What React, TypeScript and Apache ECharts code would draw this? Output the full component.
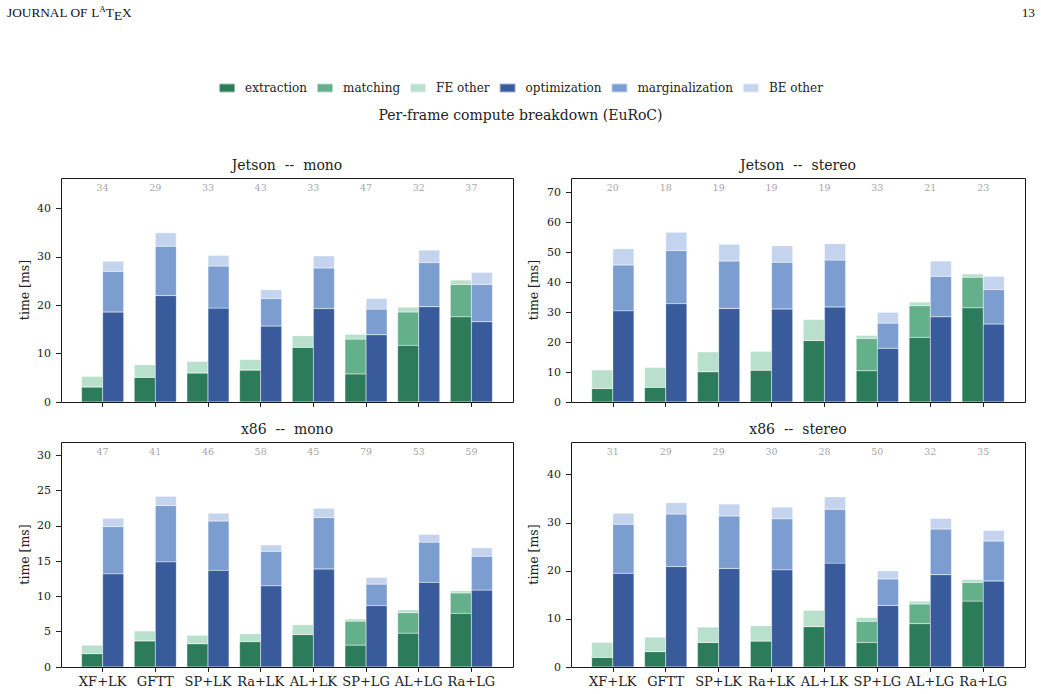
import React, { useEffect, useRef } from 'react';
import * as echarts from 'echarts';

// ---------- data ----------
const categories = ['XF+LK', 'GFTT', 'SP+LK', 'Ra+LK', 'AL+LK', 'SP+LG', 'AL+LG', 'Ra+LG'];
const componentNames = ['extraction', 'matching', 'FE other', 'optimization', 'marginalization', 'BE other'];

// Jetson -- mono
const jmExtraction = [3.1, 5.1, 6.0, 6.6, 11.3, 5.8, 11.7, 17.6];
const jmMatching = [0, 0, 0, 0, 0, 7.2, 6.9, 6.7];
const jmFeOther = [2.2, 2.6, 2.4, 2.2, 2.4, 1.0, 1.0, 0.9];
const jmOptimization = [18.6, 22.0, 19.4, 15.7, 19.3, 13.9, 19.7, 16.6];
const jmMarginalization = [8.4, 10.2, 8.7, 5.7, 8.4, 5.3, 9.1, 7.7];
const jmBeOther = [2.1, 2.8, 2.2, 1.8, 2.5, 2.2, 2.6, 2.5];
const jmFps = [34, 29, 33, 43, 33, 47, 32, 37];
const jmTicks = [0, 10, 20, 30, 40];

// Jetson -- stereo
const jsExtraction = [4.5, 4.9, 10.1, 10.6, 20.5, 10.4, 21.6, 31.4];
const jsMatching = [0, 0, 0, 0, 0, 10.8, 10.5, 10.2];
const jsFeOther = [6.2, 6.6, 6.6, 6.3, 7.0, 1.0, 1.2, 1.1];
const jsOptimization = [30.4, 32.8, 31.2, 31.0, 31.7, 17.9, 28.4, 26.0];
const jsMarginalization = [15.3, 17.7, 15.8, 15.6, 15.6, 8.4, 13.5, 11.5];
const jsBeOther = [5.4, 6.1, 5.6, 5.5, 5.5, 3.6, 5.1, 4.4];
const jsFps = [20, 18, 19, 19, 19, 33, 21, 23];
const jsTicks = [0, 10, 20, 30, 40, 50, 60, 70];

// x86 -- mono
const xmExtraction = [1.9, 3.7, 3.3, 3.6, 4.6, 3.1, 4.8, 7.6];
const xmMatching = [0, 0, 0, 0, 0, 3.4, 2.9, 2.9];
const xmFeOther = [1.2, 1.4, 1.2, 1.1, 1.4, 0.3, 0.4, 0.3];
const xmOptimization = [13.2, 14.9, 13.7, 11.5, 13.9, 8.7, 12.0, 10.9];
const xmMarginalization = [6.7, 8.0, 7.0, 4.9, 7.3, 3.05, 5.7, 4.8];
const xmBeOther = [1.2, 1.3, 1.1, 0.9, 1.3, 0.95, 1.1, 1.2];
const xmFps = [47, 41, 46, 58, 45, 79, 53, 59];
const xmTicks = [0, 5, 10, 15, 20, 25, 30];

// x86 -- stereo
const xsExtraction = [2.0, 3.2, 5.1, 5.4, 8.4, 5.1, 9.0, 13.7];
const xsMatching = [0, 0, 0, 0, 0, 4.4, 4.1, 3.9];
const xsFeOther = [3.1, 3.0, 3.2, 3.2, 3.4, 0.8, 0.6, 0.6];
const xsOptimization = [19.5, 20.9, 20.5, 20.2, 21.6, 12.8, 19.2, 17.9];
const xsMarginalization = [10.2, 10.9, 10.9, 10.6, 11.2, 5.5, 9.5, 8.3];
const xsBeOther = [2.3, 2.4, 2.5, 2.45, 2.6, 1.7, 2.2, 2.2];
const xsFps = [31, 29, 29, 30, 28, 50, 32, 35];
const xsTicks = [0, 10, 20, 30, 40];

// ---------- styling / layout ----------
const colors = ['#2c7b5a', '#64b08a', '#b9e0cc', '#3a5b9b', '#7b9dd0', '#c5d4ee'];
const SERIF = 'DejaVu Serif';
const INK = '#222222';

const panels = [
  { title: 'Jetson  --  mono', box: [61, 178, 452, 224], ymax: 46.3, ticks: jmTicks, showX: false,
    values: [jmExtraction, jmMatching, jmFeOther, jmOptimization, jmMarginalization, jmBeOther], fps: jmFps, titleY: 165 },
  { title: 'Jetson  --  stereo', box: [571, 178, 454, 224], ymax: 74.7, ticks: jsTicks, showX: false,
    values: [jsExtraction, jsMatching, jsFeOther, jsOptimization, jsMarginalization, jsBeOther], fps: jsFps, titleY: 165 },
  { title: 'x86  --  mono', box: [61, 442, 452, 225], ymax: 31.9, ticks: xmTicks, showX: true,
    values: [xmExtraction, xmMatching, xmFeOther, xmOptimization, xmMarginalization, xmBeOther], fps: xmFps, titleY: 429 },
  { title: 'x86  --  stereo', box: [571, 442, 454, 225], ymax: 46.8, ticks: xsTicks, showX: true,
    values: [xsExtraction, xsMatching, xsFeOther, xsOptimization, xsMarginalization, xsBeOther], fps: xsFps, titleY: 429 },
];

function buildOption() {
  const grid: any[] = [];
  const xAxis: any[] = [];
  const yAxis: any[] = [];
  const series: any[] = [];
  const graphic: any[] = [];

  panels.forEach((p, g) => {
    const [L, T, W, H] = p.box;
    const unit = W / 8.58; // x range -0.79 .. 7.79 in category units
    const pad = unit * 0.29;
    grid.push({ left: L + pad, top: T, width: W - 2 * pad, height: H });
    xAxis.push({
      type: 'category', gridIndex: g, data: categories,
      axisLine: { show: false },
      axisTick: { show: true, alignWithLabel: true, length: 5, lineStyle: { color: INK, width: 1 } },
      axisLabel: { show: p.showX, interval: 0, fontFamily: SERIF, fontSize: 13, color: INK, margin: 8 },
      splitLine: { show: false },
    });
    yAxis.push({
      type: 'value', gridIndex: g, min: 0, max: p.ymax, offset: pad,
      name: 'time [ms]', nameLocation: 'middle', nameGap: L > 300 ? 31 : 30,
      nameTextStyle: { fontFamily: SERIF, fontSize: 12.5, color: INK },
      axisLine: { show: false },
      axisTick: { show: true, length: 5, customValues: p.ticks, lineStyle: { color: INK, width: 1 } },
      axisLabel: { fontFamily: SERIF, fontSize: 11, color: INK, margin: 10, customValues: p.ticks },
      splitLine: { show: false },
    });
    componentNames.forEach((name, k) => {
      series.push({
        type: 'bar', name, xAxisIndex: g, yAxisIndex: g,
        stack: (k < 3 ? 'fe' : 'be') + g,
        data: p.values[k],
        barWidth: '40%', barGap: '0%',
        itemStyle: { color: colors[k], borderColor: 'rgba(255,255,255,0.55)', borderWidth: 0.4 },
        emphasis: { disabled: true },
      });
    });
    series.push({
      type: 'scatter', name: 'fps' + g, xAxisIndex: g, yAxisIndex: g,
      symbolSize: 1, itemStyle: { color: 'rgba(0,0,0,0)' }, silent: true,
      data: p.fps.map((v, i) => [i, p.ymax * 0.957, v]),
      label: {
        show: true, position: 'inside', formatter: (q: any) => String(q.value[2]),
        fontFamily: SERIF, fontSize: 9.5, color: '#8c8c8c',
      },
    });
    graphic.push({
      type: 'rect', z: 100, silent: true,
      shape: { x: L + 0.5, y: T + 0.5, width: W, height: H },
      style: { fill: 'none', stroke: '#1a1a1a', lineWidth: 1 },
    });
    graphic.push({
      type: 'text', z: 100, x: L + W / 2, y: p.titleY,
      style: { text: p.title, fontFamily: SERIF, fontSize: 14, fill: INK, align: 'center', verticalAlign: 'middle' },
    });
  });

  // suptitle
  graphic.push({
    type: 'text', x: 520.5, y: 115,
    style: { text: 'Per-frame compute breakdown (EuRoC)', fontFamily: SERIF, fontSize: 14, fill: INK, align: 'center', verticalAlign: 'middle' },
  });

  // page header: "JOURNAL OF LaTeX" as one rich text (raised A, lowered E)
  const HF = 'Liberation Serif';
  graphic.push({
    type: 'text', x: 7, y: 3,
    style: {
      text: 'JOURNAL OF {b|L}{a|A}{b|T}{e|E}{b|X}',
      fontFamily: HF, fontSize: 13.3, fill: '#111', lineHeight: 19, verticalAlign: 'top',
      rich: {
        b: { fontFamily: HF, fontSize: 13.3, fill: '#111', lineHeight: 19, verticalAlign: 'middle' },
        a: { fontFamily: HF, fontSize: 9, fill: '#111', lineHeight: 13, verticalAlign: 'top', padding: [1, 0, 0, 0] },
        e: { fontFamily: HF, fontSize: 13.3, fill: '#111', lineHeight: 19, verticalAlign: 'bottom', padding: [0, 0, 0, 0] },
      },
    },
  });
  graphic.push({
    type: 'text', x: 1035, y: 12,
    style: { text: '13', fontFamily: HF, fontSize: 13.3, fill: '#111', align: 'right', verticalAlign: 'middle' },
  });

  return {
    animation: false,
    backgroundColor: '#ffffff',
    legend: {
      data: componentNames, top: 77, left: 'center', icon: 'rect',
      itemWidth: 16, itemHeight: 9, itemGap: 9,
      textStyle: { fontFamily: SERIF, fontSize: 12, color: INK, padding: [0, 0, 0, 5] },
      selectedMode: false,
    },
    grid, xAxis, yAxis, series, graphic,
  };
}

export default function App() {
  const ref = useRef<HTMLDivElement>(null);
  useEffect(() => {
    if (!ref.current) return;
    const chart = echarts.init(ref.current, null, { renderer: 'svg' });
    chart.setOption(buildOption() as any);
    return () => chart.dispose();
  }, []);
  return (
    <div
      ref={ref}
      style={{ position: 'fixed', left: 0, top: 0, width: 1041, height: 694, background: '#fff' }}
    />
  );
}
